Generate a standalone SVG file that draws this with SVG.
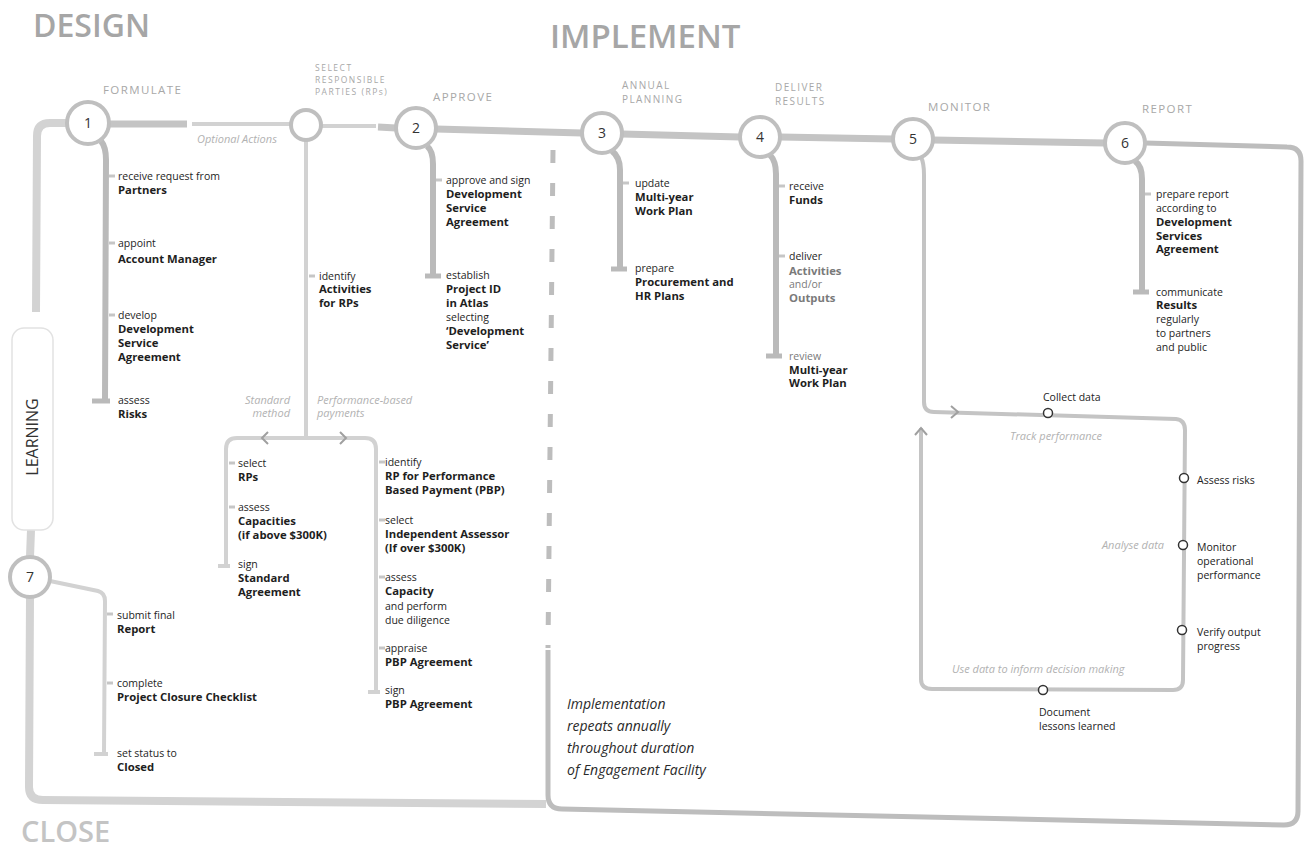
<svg xmlns="http://www.w3.org/2000/svg" width="1309" height="859" viewBox="0 0 1309 859">
<style>
text{font-family:'Open Sans','Liberation Sans',sans-serif}
.h{font-weight:600;fill:#a6a6a6}
.st{font-size:11.5px;letter-spacing:1.4px;fill:#a8a8a8}
.st1{font-size:10px;letter-spacing:1.4px;fill:#a8a8a8}
.st2{font-size:8.5px;letter-spacing:1.5px;fill:#a8a8a8}
.t{font-size:10.5px;fill:#1e1e1e}
.b{font-weight:700;font-size:11.3px}
.g{fill:#7a7a7a}
.it{font-style:italic;font-size:11px;fill:#b2b2b2}
.m{font-size:10.5px;fill:#222}
.num{font-size:14px;fill:#333;text-anchor:middle}
.node circle{fill:#fff;stroke:#bfbfbf;stroke-width:4}
.main{stroke:#c4c4c4;stroke-width:7;fill:none}
.outer{stroke:#d3d3d3;stroke-width:8;fill:none}
.br{stroke:#bababa;stroke-width:6;fill:none}
.thin{stroke:#d2d2d2;stroke-width:4;fill:none}
.stub{stroke:#bababa;stroke-width:5}
.tick{stroke:#c6c6c6;stroke-width:3}
.loop{stroke:#c4c4c4;stroke-width:4;fill:none}
.chev{stroke:#a0a0a0;stroke-width:2;fill:none}
.dot{fill:#fff;stroke:#333;stroke-width:1.5}
.box{stroke:#bdbdbd;stroke-width:5;fill:none}
</style>
<rect width="1309" height="859" fill="#fff"/>
<g id="headings">
<text class="h" x="33" y="37" font-size="32">DESIGN</text>
<text class="h" x="550" y="48" font-size="33">IMPLEMENT</text>
<text class="h" x="21" y="842" font-size="29" style="fill:#c4c4c4">CLOSE</text>
</g>
<g id="connectors">
<path class="outer" d="M67,123 L50,123 Q37,123 37,136 L36,312"/>
<path class="outer" d="M31,530 L30,557"/>
<path class="outer" d="M30,597 L29,787 Q29,800 43,800 L546,804"/>
<path class="main" d="M109,124 L187,124" stroke="#b9b9b9"/>
<path class="thin" d="M192,124 L291,124"/>
<path class="thin" d="M321,126 L376,126"/>
<path class="main" d="M378,127 L396,128" stroke="#b3b3b3"/>
<path class="main" d="M436,129 L582,133"/>
<path class="main" d="M622,134 L740,137"/>
<path class="main" d="M780,137 L893,139"/>
<path class="main" d="M933,140 L1105,143"/>
<path class="box" d="M1145,143 L1287,147 Q1301,147 1301,161 L1298,811 Q1298,825 1284,825 L562,809 Q548,809 548,795 L548,650"/>
<path class="box" d="M553,150 L548,648" stroke-dasharray="13 20" stroke="#c4c4c4"/>
<path class="br" d="M101,141 Q106,147 106,160 L105,400"/>
<line class="stub" x1="92" y1="401" x2="110" y2="401"/>
<line class="tick" x1="109" y1="176" x2="115" y2="176"/>
<line class="tick" x1="109" y1="243" x2="115" y2="243"/>
<line class="tick" x1="109" y1="315" x2="115" y2="315"/>
<path class="thin" d="M306,140 L306,438"/>
<path class="thin" d="M226,565 L226,449 Q226,438 237,438 L365,438 Q376,438 376,449 L376,691"/>
<polyline class="chev" points="268,432 262,438 268,444"/>
<polyline class="chev" points="340,432 346,438 340,444"/>
<line class="thin" x1="218" y1="566" x2="230" y2="566"/>
<line class="thin" x1="368" y1="692" x2="380" y2="692"/>
<line class="tick" x1="309" y1="276" x2="315" y2="276" stroke="#d2d2d2"/>
<line class="tick" x1="229" y1="463" x2="235" y2="463" stroke="#d2d2d2"/>
<line class="tick" x1="229" y1="507" x2="235" y2="507" stroke="#d2d2d2"/>
<line class="tick" x1="379" y1="462" x2="385" y2="462" stroke="#d2d2d2"/>
<line class="tick" x1="379" y1="520" x2="385" y2="520" stroke="#d2d2d2"/>
<line class="tick" x1="379" y1="577" x2="385" y2="577" stroke="#d2d2d2"/>
<line class="tick" x1="379" y1="648" x2="385" y2="648" stroke="#d2d2d2"/>
<path class="br" d="M427,146 Q433,151 433,164 L433,275"/>
<line class="stub" x1="425" y1="276" x2="441" y2="276"/>
<line class="tick" x1="436" y1="180" x2="442" y2="180"/>
<path class="br" d="M612,151 Q620,157 620,170 L620,268"/>
<line class="stub" x1="611" y1="269" x2="627" y2="269"/>
<line class="tick" x1="623" y1="183" x2="629" y2="183"/>
<path class="br" d="M770,155 Q776,161 776,174 L776,355"/>
<line class="stub" x1="766" y1="356" x2="782" y2="356"/>
<line class="tick" x1="779" y1="186" x2="785" y2="186"/>
<line class="tick" x1="779" y1="256" x2="785" y2="256"/>
<path class="br" d="M1135,161 Q1142,166 1142,179 L1142,292"/>
<line class="stub" x1="1133" y1="292" x2="1149" y2="292"/>
<line class="tick" x1="1145" y1="194" x2="1151" y2="194"/>
<path class="thin" d="M50,581 L98,591 Q105,593 105,601 L104,753"/>
<line class="thin" x1="94" y1="754" x2="108" y2="754"/>
<line class="tick" x1="107" y1="614" x2="113" y2="614" stroke="#d2d2d2"/>
<line class="tick" x1="107" y1="683" x2="113" y2="683" stroke="#d2d2d2"/>
<path class="loop" stroke-width="5" d="M921,157 Q924,163 924,175 L924,402 Q924,412 934,412 L1176,419 Q1185,420 1185,430 L1183,680 Q1183,690 1173,690 L932,689 Q921,689 921,679 L921,428"/>
<polyline class="chev" points="951,406 958,412 951,418"/>
<polyline class="chev" points="915,435 921,428 927,435"/>
</g>
<g id="learning">
<rect x="12" y="328" width="41" height="202" rx="12" fill="#fff" stroke="#e2e2e2" stroke-width="1.5"/>
<text x="38" y="437" font-size="16" fill="#333" text-anchor="middle" transform="rotate(-90 38 437)">LEARNING</text>
</g>
<g id="node-1" class="node">
<circle cx="88" cy="123" r="21"/>
<text class="num" x="88" y="128">1</text>
<text class="st" x="103" y="94">FORMULATE</text>
<text class="t" x="118" y="180">receive request from<tspan class="b" x="118" dy="14">Partners</tspan></text>
<text class="t" x="118" y="247">appoint<tspan class="b" x="118" dy="16">Account Manager</tspan></text>
<text class="t" x="118" y="319">develop<tspan class="b" x="118" dy="14">Development</tspan><tspan class="b" x="118" dy="14">Service</tspan><tspan class="b" x="118" dy="14">Agreement</tspan></text>
<text class="t" x="118" y="404">assess<tspan class="b" x="118" dy="14">Risks</tspan></text>
</g>
<g id="node-rp" class="node">
<circle cx="306" cy="125" r="15"/>
<text class="st2" x="315" y="71">SELECT<tspan x="315" dy="12">RESPONSIBLE</tspan><tspan x="315" dy="12">PARTIES (RPs)</tspan></text>
<text class="it" x="197" y="143">Optional Actions</text>
<text class="t" x="319" y="280">identify<tspan class="b" x="319" dy="13">Activities</tspan><tspan class="b" x="319" dy="14">for RPs</tspan></text>
<text class="it" x="290" y="404" text-anchor="end">Standard<tspan x="290" dy="13">method</tspan></text>
<text class="it" x="317" y="404">Performance-based<tspan x="317" dy="13">payments</tspan></text>
<text class="t" x="238" y="467">select<tspan class="b" x="238" dy="14">RPs</tspan></text>
<text class="t" x="238" y="511">assess<tspan class="b" x="238" dy="14">Capacities</tspan><tspan class="b" x="238" dy="14">(if above $300K)</tspan></text>
<text class="t" x="238" y="568">sign<tspan class="b" x="238" dy="14">Standard</tspan><tspan class="b" x="238" dy="14">Agreement</tspan></text>
<text class="t" x="385" y="466">identify<tspan class="b" x="385" dy="14">RP for Performance</tspan><tspan class="b" x="385" dy="14">Based Payment (PBP)</tspan></text>
<text class="t" x="385" y="524">select<tspan class="b" x="385" dy="14">Independent Assessor</tspan><tspan class="b" x="385" dy="14">(If over $300K)</tspan></text>
<text class="t" x="385" y="581">assess<tspan class="b" x="385" dy="14">Capacity</tspan><tspan x="385" dy="15">and perform</tspan><tspan x="385" dy="14">due diligence</tspan></text>
<text class="t" x="385" y="652">appraise<tspan class="b" x="385" dy="14">PBP Agreement</tspan></text>
<text class="t" x="385" y="694">sign<tspan class="b" x="385" dy="14">PBP Agreement</tspan></text>
</g>
<g id="node-2" class="node">
<circle cx="416" cy="128" r="20"/>
<text class="num" x="416" y="133">2</text>
<text class="st" x="433" y="101">APPROVE</text>
<text class="t" x="446" y="184">approve and sign<tspan class="b" x="446" dy="14">Development</tspan><tspan class="b" x="446" dy="14">Service</tspan><tspan class="b" x="446" dy="14">Agreement</tspan></text>
<text class="t" x="446" y="279">establish<tspan class="b" x="446" dy="14">Project ID</tspan><tspan class="b" x="446" dy="14">in Atlas</tspan><tspan x="446" dy="14">selecting</tspan><tspan class="b" x="446" dy="14">‘Development</tspan><tspan class="b" x="446" dy="14">Service’</tspan></text>
</g>
<g id="node-3" class="node">
<circle cx="602" cy="133" r="20"/>
<text class="num" x="602" y="138">3</text>
<text class="st1" x="622" y="89">ANNUAL<tspan x="622" dy="14">PLANNING</tspan></text>
<text class="t" x="635" y="187">update<tspan class="b" x="635" dy="14">Multi-year</tspan><tspan class="b" x="635" dy="14">Work Plan</tspan></text>
<text class="t" x="635" y="272">prepare<tspan class="b" x="635" dy="14">Procurement and</tspan><tspan class="b" x="635" dy="14">HR Plans</tspan></text>
</g>
<g id="node-4" class="node">
<circle cx="760" cy="137" r="20"/>
<text class="num" x="760" y="142">4</text>
<text class="st1" x="775" y="91">DELIVER<tspan x="775" dy="14">RESULTS</tspan></text>
<text class="t" x="789" y="190">receive<tspan class="b" x="789" dy="14">Funds</tspan></text>
<text class="t" x="789" y="260">deliver<tspan class="b g" x="789" dy="15">Activities</tspan><tspan class="g" x="789" dy="13">and/or</tspan><tspan class="b g" x="789" dy="14">Outputs</tspan></text>
<text class="t" x="789" y="360"><tspan class="g">review</tspan><tspan class="b" x="789" dy="14">Multi-year</tspan><tspan class="b" x="789" dy="13">Work Plan</tspan></text>
</g>
<g id="node-5" class="node">
<circle cx="913" cy="139" r="20"/>
<text class="num" x="913" y="144">5</text>
<text class="st" x="928" y="111">MONITOR</text>
</g>
<g id="node-6" class="node">
<circle cx="1125" cy="143" r="20"/>
<text class="num" x="1125" y="148">6</text>
<text class="st" x="1142" y="113">REPORT</text>
<text class="t" x="1156" y="198">prepare report<tspan x="1156" dy="14">according to</tspan><tspan class="b" x="1156" dy="14">Development</tspan><tspan class="b" x="1156" dy="14">Services</tspan><tspan class="b" x="1156" dy="13">Agreement</tspan></text>
<text class="t" x="1156" y="296">communicate<tspan class="b" x="1156" dy="13">Results</tspan><tspan x="1156" dy="14">regularly</tspan><tspan x="1156" dy="14">to partners</tspan><tspan x="1156" dy="14">and public</tspan></text>
</g>
<g id="node-7" class="node">
<circle cx="30" cy="577" r="20"/>
<text class="num" x="30" y="582">7</text>
<text class="t" x="117" y="619">submit final<tspan class="b" x="117" dy="14">Report</tspan></text>
<text class="t" x="117" y="687">complete<tspan class="b" x="117" dy="14">Project Closure Checklist</tspan></text>
<text class="t" x="117" y="757">set status to<tspan class="b" x="117" dy="14">Closed</tspan></text>
</g>
<g id="monitor-cycle">
<circle class="dot" cx="1048" cy="413" r="4.5"/>
<circle class="dot" cx="1184" cy="478" r="4.5"/>
<circle class="dot" cx="1183" cy="545" r="4.5"/>
<circle class="dot" cx="1182" cy="630" r="4.5"/>
<circle class="dot" cx="1043" cy="690" r="4.5"/>
<text class="m" x="1043" y="401">Collect data</text>
<text class="it" x="1010" y="440">Track performance</text>
<text class="m" x="1197" y="484">Assess risks</text>
<text class="it" x="1164" y="549" text-anchor="end">Analyse data</text>
<text class="m" x="1197" y="551">Monitor<tspan x="1197" dy="14">operational</tspan><tspan x="1197" dy="14">performance</tspan></text>
<text class="m" x="1197" y="636">Verify output<tspan x="1197" dy="14">progress</tspan></text>
<text class="it" x="952" y="673">Use data to inform decision making</text>
<text class="m" x="1039" y="716">Document<tspan x="1039" dy="14">lessons learned</tspan></text>
</g>
<g id="note">
<text x="567" y="709" font-size="14" font-style="italic" fill="#2a2a2a">Implementation<tspan x="567" dy="22">repeats annually</tspan><tspan x="567" dy="22">throughout duration</tspan><tspan x="567" dy="22">of Engagement Facility</tspan></text>
</g>
</svg>
